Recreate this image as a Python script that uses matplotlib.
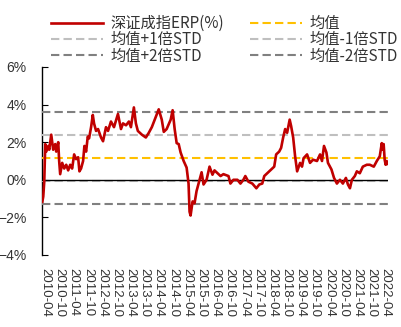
import matplotlib
matplotlib.use("Agg")
import matplotlib.pyplot as plt
import pandas as pd

plt.rcParams['font.family'] = ['Liberation Sans', 'Noto Sans CJK SC', 'DejaVu Sans']

dates = ["2010-02-22","2010-03-06","2010-03-19","2010-04-01","2010-04-14","2010-05-10","2010-05-22",
"2010-06-17","2010-07-12","2010-08-07","2010-08-20","2010-09-15","2010-09-27","2010-10-10","2010-11-05",
"2010-12-01","2010-12-27","2011-01-21","2011-02-16","2011-03-13","2011-04-08","2011-05-03","2011-05-29",
"2011-06-15","2011-07-06","2011-08-01","2011-08-18","2011-09-09","2011-09-30","2011-10-17","2011-11-12",
"2011-12-04","2011-12-20","2012-01-15","2012-02-10","2012-03-19","2012-04-14","2012-05-22","2012-06-17",
"2012-07-25","2012-09-02","2012-10-23","2012-12-01","2012-12-27","2013-02-04","2013-03-13","2013-04-08",
"2013-05-16","2013-06-11","2013-07-06","2013-08-27","2013-10-17","2013-11-24","2014-01-02","2014-02-22",
"2014-04-01","2014-05-10","2014-06-05","2014-07-12","2014-09-02","2014-09-27","2014-10-23","2014-11-18",
"2014-12-14","2015-01-08","2015-02-16","2015-03-26","2015-04-20","2015-05-03","2015-05-16","2015-06-11",
"2015-07-06","2015-08-01","2015-09-09","2015-10-05","2015-10-30","2015-12-08","2016-01-15","2016-02-22",
"2016-03-19","2016-04-27","2016-06-05","2016-07-12","2016-09-15","2016-10-10","2016-11-18","2017-01-08",
"2017-02-16","2017-03-26","2017-04-20","2017-05-29","2017-07-19","2017-09-09","2017-10-17","2017-11-24",
"2017-12-20","2018-01-28","2018-03-19","2018-04-27","2018-05-22","2018-06-30","2018-07-25","2018-08-20",
"2018-09-15","2018-10-10","2018-11-12","2018-12-01","2018-12-27","2019-01-21","2019-02-16","2019-03-26",
"2019-04-20","2019-05-10","2019-06-24","2019-08-01","2019-09-09","2019-10-30","2019-12-08","2020-01-02",
"2020-01-28","2020-02-28","2020-03-19","2020-05-03","2020-06-05","2020-07-12","2020-08-20","2020-09-27",
"2020-11-05","2020-12-01","2020-12-27","2021-01-21","2021-02-28","2021-03-26","2021-05-03","2021-06-11",
"2021-08-01","2021-09-09","2021-10-30","2021-12-08","2022-01-15","2022-02-10","2022-02-22","2022-03-06",
"2022-03-19","2022-04-01","2022-04-14","2022-04-27"]

erp = [-1.17,-0.9,-0.1,1.9,1.5,1.8,1.6,
2.4,1.6,1.9,1.5,2.0,1.0,0.3,0.9,
0.6,0.8,0.5,0.8,0.6,1.35,1.1,1.2,
0.45,0.6,1.0,1.8,1.5,2.3,2.2,2.8,
3.45,3.0,2.6,2.7,2.25,2.05,2.8,2.6,
3.1,2.8,3.5,2.7,3.0,2.9,3.1,2.8,
3.85,3.0,2.6,2.4,2.25,2.5,2.8,3.35,
3.75,3.2,2.55,2.7,3.2,3.7,2.7,1.95,
1.9,1.45,1.0,0.65,-0.2,-1.7,-1.9,-1.15,
-1.25,-0.6,0.0,0.4,-0.25,0.0,0.7,0.27,
0.5,0.35,0.2,0.3,0.2,-0.2,0.0,0.0,
-0.2,0.0,0.2,-0.1,-0.2,-0.45,-0.25,-0.2,
0.2,0.35,0.55,0.7,1.35,1.5,1.7,2.25,
2.7,2.5,3.2,2.85,2.25,1.25,0.45,0.9,
0.7,1.15,1.35,0.9,1.07,1.0,1.35,1.0,
1.8,1.45,0.9,0.55,0.1,-0.2,0.0,-0.2,
0.1,-0.25,-0.45,0.0,0.2,0.45,0.35,0.7,
0.8,0.8,0.7,1.0,1.25,1.95,1.6,1.9,
1.07,0.8,1.0,0.85]

mean_val = 1.15
plus1 = 2.38
minus1 = -0.08
plus2 = 3.63
minus2 = -1.3

tick_labels = [f"{y}-{m}" for y in range(2010, 2023) for m in ("04", "10")][:-1]

x = pd.to_datetime(dates)
fig = plt.figure(figsize=(4.02, 3.27), dpi=100)
ax = fig.add_axes([42/402, 1-255/327, (388-42)/402, (255-67)/327])

dash = (0, (4, 2))
l0, = ax.plot(x, erp, color='#C00000', lw=1.9, label='深证成指ERP(%)', zorder=5)
l1 = ax.axhline(mean_val, color='#FFC000', lw=1.5, ls=dash, label='均值', zorder=3)
l2 = ax.axhline(plus1, color='#BFBFBF', lw=1.5, ls=dash, label='均值+1倍STD', zorder=3)
l3 = ax.axhline(minus1, color='#BFBFBF', lw=1.5, ls=dash, label='均值-1倍STD', zorder=3)
l4 = ax.axhline(plus2, color='#808080', lw=1.5, ls=dash, label='均值+2倍STD', zorder=3)
l5 = ax.axhline(minus2, color='#808080', lw=1.5, ls=dash, label='均值-2倍STD', zorder=3)
ax.axhline(0, color='black', lw=1.0, zorder=4)

ax.set_ylim(-4, 6)
ax.set_yticks([-4, -2, 0, 2, 4, 6])
ax.set_yticklabels(['\u22124%', '\u22122%', '0%', '2%', '4%', '6%'])
ax.set_xlim(pd.Timestamp('2010-02-18'), pd.Timestamp('2022-05-01'))
ticks = pd.date_range('2010-04-01', '2022-04-01', freq='6MS')
ax.set_xticks(ticks)
ax.set_xticklabels(tick_labels, rotation=-90, fontsize=9.5, color='#333333',
                   va='top', ha='center')

for s in ['top', 'right', 'bottom']:
    ax.spines[s].set_visible(False)
ax.spines['left'].set_color('black')
ax.spines['left'].set_linewidth(1.0)
ax.tick_params(axis='y', direction='in', length=4, pad=11, labelsize=10, labelcolor='#333333',
               color='black')
ax.tick_params(axis='x', length=0, pad=9)

handles = [l0, l2, l4, l1, l3, l5]
fig.legend(handles, [h.get_label() for h in handles], ncol=2, loc='upper left',
           bbox_to_anchor=(51/402, 1-15/327), frameon=False,
           prop={'family': ['Noto Sans CJK SC', 'DejaVu Sans'], 'size': 11},
           handlelength=3.4, handletextpad=0.5, columnspacing=1.7,
           labelspacing=-0.05, borderaxespad=0, borderpad=0, labelcolor='#333333')

fig.savefig('out.png', dpi=100)
